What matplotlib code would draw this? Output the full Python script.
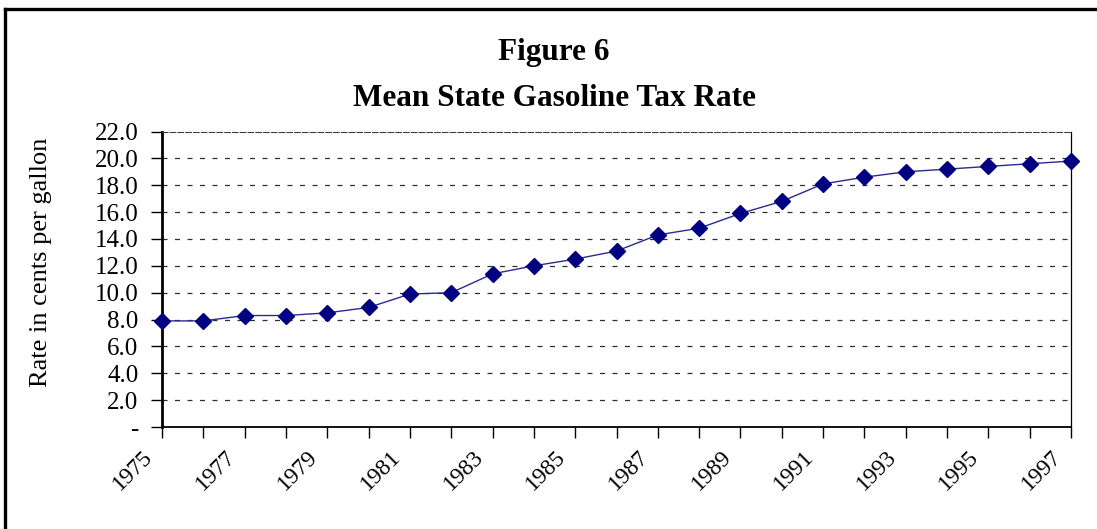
import matplotlib
matplotlib.use('Agg')
import matplotlib.pyplot as plt
from matplotlib.lines import Line2D
from matplotlib.transforms import ScaledTranslation

years = list(range(1975, 1998))
tax_rate = [7.9, 7.9, 8.3, 8.3, 8.5, 8.9, 9.9, 10.0, 11.4, 12.0, 12.5, 13.1,
            14.3, 14.8, 15.9, 16.8, 18.1, 18.6, 19.0, 19.2, 19.4, 19.6, 19.8]
y_ticks = [0, 2, 4, 6, 8, 10, 12, 14, 16, 18, 20, 22]
y_tick_labels = ['-'] + [f'{v:.1f}' for v in y_ticks[1:]]

plt.rcParams['font.family'] = ['Liberation Serif', 'DejaVu Serif']

fig = plt.figure(figsize=(10.97, 5.29), dpi=100)
ax = fig.add_axes([0.1477, 0.1928, 0.8286, 0.5586])

ax.plot(years, tax_rate, color='#2a2a90', linewidth=1.0,
        marker='D', markersize=8, markerfacecolor='#000080',
        markeredgecolor='#000080', clip_on=False, zorder=3)

ax.set_xlim(1975, 1997)
ax.set_ylim(0, 22)
ax.set_yticks(y_ticks)
ax.set_yticklabels(y_tick_labels, fontsize=18)
ax.set_xticks(years)
ax.set_xticklabels([str(y) if (y - 1975) % 2 == 0 else '' for y in years],
                   fontsize=17, rotation=45, ha='right', va='top',
                   rotation_mode='anchor')
ax.tick_params(axis='both', direction='out', length=8, width=1, color='black')
ax.tick_params(axis='y', pad=9)
ax.tick_params(axis='x', pad=6)
# shift the slanted year labels a little to the left of their ticks
for lab in ax.get_xticklabels():
    lab.set_transform(lab.get_transform() + ScaledTranslation(-0.2, 0, fig.dpi_scale_trans))

for v in y_ticks[1:-1]:
    ax.axhline(v, color='#303030', linewidth=0.9, linestyle=(0, (4, 6)), zorder=1)

for s in ['left', 'bottom', 'right', 'top']:
    ax.spines[s].set_color('black')
ax.spines['left'].set_linewidth(2)
ax.spines['bottom'].set_linewidth(1.3)
ax.spines['right'].set_linewidth(0.9)
ax.spines['top'].set_linewidth(0.8)
ax.spines['top'].set_color('#404040')
ax.spines['top'].set_linestyle((0, (5, 2)))

ax.set_ylabel('Rate in cents per gallon', fontsize=19)
ax.yaxis.set_label_coords(-0.121, 0.557)

fig.text(0.505, 0.900, 'Figure 6', ha='center', va='center',
         fontsize=22.5, fontweight='bold')
fig.text(0.505, 0.814, 'Mean State Gasoline Tax Rate', ha='center', va='center',
         fontsize=22.5, fontweight='bold')

# outer frame (only top and left edges are visible)
fig.add_artist(Line2D([0.005, 1.0], [0.983, 0.983], transform=fig.transFigure,
                      color='black', linewidth=2.4))
fig.add_artist(Line2D([0.005, 0.005], [0.0, 0.983], transform=fig.transFigure,
                      color='black', linewidth=2.4))

fig.savefig('out.png', dpi=100)
